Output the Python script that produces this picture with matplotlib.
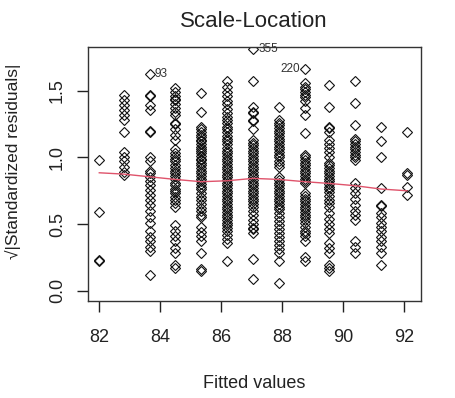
import numpy as np
import matplotlib.pyplot as plt

plt.rcParams['font.family'] = ['Liberation Sans', 'DejaVu Sans']

# fitted value of each column of points
fitted = [82.0, 82.8, 83.65, 84.5, 85.35, 86.2, 87.05, 87.9, 88.75, 89.55, 90.4, 91.25, 92.1]

# sqrt|standardized residuals| per fitted value
col1 = [0.98, 0.59, 0.23, 0.22]
col2 = [1.47, 1.43, 1.39, 1.355, 1.32, 1.28, 1.19, 1.04, 1.005, 0.97, 0.93, 0.89, 0.87]
col3 = [1.625, 1.47, 1.46, 1.39, 1.355, 1.20, 1.19, 1.005, 0.97, 0.895, 0.885, 0.855,
        0.82, 0.795, 0.755, 0.72, 0.68, 0.645, 0.595, 0.555, 0.505, 0.445, 0.405,
        0.37, 0.33, 0.295, 0.12]
col4 = [1.52, 1.49, 1.46, 1.44, 1.43, 1.40, 1.37, 1.34, 1.32, 1.26, 1.25, 1.21, 1.17,
        1.13, 1.06, 1.03, 1.01, 0.99, 0.97, 0.94, 0.92, 0.90, 0.88, 0.86, 0.84, 0.81,
        0.79, 0.76, 0.75, 0.73, 0.70, 0.68, 0.66, 0.63, 0.49, 0.45, 0.41, 0.37, 0.32,
        0.28, 0.19, 0.17]
col5 = [1.48, 1.34, 1.23, 1.21, 1.19, 1.17, 1.15, 1.13, 1.12, 1.10, 1.08, 1.06, 1.05,
        1.03, 1.01, 0.99, 0.98, 0.96, 0.94, 0.92, 0.90, 0.88, 0.86, 0.84, 0.82, 0.80,
        0.78, 0.76, 0.73, 0.70, 0.68, 0.65, 0.62, 0.60, 0.57, 0.555, 0.48, 0.44, 0.41,
        0.37, 0.28, 0.16, 0.15]
col6 = [1.57, 1.53, 1.49, 1.46, 1.42, 1.40, 1.36, 1.33, 1.30, 1.28, 1.26, 1.23, 1.21,
        1.19, 1.16, 1.14, 1.12, 1.10, 1.07, 1.05, 1.03, 1.01, 0.99, 0.97, 0.95, 0.93,
        0.91, 0.89, 0.87, 0.85, 0.83, 0.81, 0.79, 0.77, 0.75, 0.73, 0.71, 0.69, 0.67,
        0.65, 0.63, 0.61, 0.59, 0.57, 0.55, 0.53, 0.51, 0.49, 0.47, 0.45, 0.42, 0.39,
        0.36, 0.22]
col7 = [1.81, 1.57, 1.38, 1.34, 1.33, 1.28, 1.27, 1.21, 1.13, 1.11, 1.09, 1.07, 1.05,
        1.03, 1.01, 0.99, 0.97, 0.95, 0.93, 0.91, 0.89, 0.87, 0.85, 0.83, 0.81, 0.79,
        0.77, 0.75, 0.73, 0.71, 0.69, 0.67, 0.65, 0.63, 0.60, 0.57, 0.53, 0.50, 0.47,
        0.46, 0.43, 0.24, 0.09]
col8 = [1.38, 1.28, 1.26, 1.24, 1.22, 1.20, 1.18, 1.16, 1.14, 1.12, 1.10, 1.08, 1.06,
        1.04, 1.02, 1.00, 0.97, 0.95, 0.93, 0.855, 0.83, 0.81, 0.79, 0.77, 0.75, 0.73,
        0.71, 0.69, 0.67, 0.65, 0.63, 0.61, 0.58, 0.55, 0.52, 0.49, 0.46, 0.43, 0.40,
        0.37, 0.34, 0.31, 0.28, 0.22, 0.055]
col9 = [1.66, 1.56, 1.53, 1.51, 1.49, 1.47, 1.45, 1.42, 1.37, 1.32, 1.18, 1.02, 1.00,
        0.98, 0.96, 0.94, 0.92, 0.90, 0.88, 0.86, 0.84, 0.82, 0.81, 0.73, 0.71, 0.69,
        0.67, 0.65, 0.63, 0.61, 0.59, 0.57, 0.55, 0.53, 0.51, 0.48, 0.45, 0.43, 0.41,
        0.37, 0.255, 0.22]
col10 = [1.54, 1.38, 1.23, 1.22, 1.19, 1.13, 1.10, 1.07, 1.04, 1.005, 0.96, 0.94, 0.92,
         0.90, 0.88, 0.86, 0.84, 0.82, 0.80, 0.78, 0.76, 0.74, 0.71, 0.68, 0.66, 0.63,
         0.58, 0.54, 0.50, 0.46, 0.43, 0.355, 0.32, 0.28, 0.19, 0.17, 0.145]
col11 = [1.57, 1.405, 1.24, 1.14, 1.12, 1.10, 1.08, 1.06, 1.04, 1.02, 1.00, 0.98, 0.805,
         0.77, 0.73, 0.69, 0.645, 0.60, 0.57, 0.53, 0.37, 0.33, 0.28]
col12 = [1.23, 1.12, 1.005, 0.77, 0.645, 0.635, 0.58, 0.55, 0.51, 0.48, 0.45, 0.405,
         0.37, 0.33, 0.28, 0.19]
col13 = [1.19, 0.88, 0.87, 0.78, 0.72]
columns = [col1, col2, col3, col4, col5, col6, col7, col8, col9, col10, col11, col12, col13]

# smoother (red line)
smooth_y = [0.885, 0.875, 0.855, 0.835, 0.818, 0.825, 0.843, 0.835, 0.818, 0.805,
            0.788, 0.763, 0.75]

# labelled extreme points: (column index, label, side)
outliers = [(2, '93', 'right'), (6, '355', 'right'), (8, '220', 'left')]

x = np.concatenate([[f] * len(c) for f, c in zip(fitted, columns)])
y = np.concatenate(columns)

fig = plt.figure(figsize=(4.56, 3.98), dpi=100)
ax = fig.add_axes([0.193, 0.2437, 0.730, 0.638])

ax.plot(x, y, ls='none', marker='D', ms=4.8, mfc='none', mec='#111111', mew=0.8)
ax.plot(fitted, smooth_y, color='#DF536B', lw=1.0)

for i, lab, side in outliers:
    px, py = fitted[i], columns[i][0]
    dx = 0.17 if side == 'right' else -0.17
    ax.text(px + dx, py, lab, fontsize=8.5, color='#333333',
            ha='left' if side == 'right' else 'right', va='center')

ax.set_xlim(81.63, 92.56)
ax.set_ylim(-0.077, 1.828)
ax.set_xticks([82, 84, 86, 88, 90, 92])
ax.set_yticks([0.0, 0.5, 1.0, 1.5])
ax.set_yticklabels(['0.0', '0.5', '1.0', '1.5'], rotation=90, va='center')

ax.tick_params(axis='both', direction='out', length=8, width=1.0, labelsize=13,
               colors='#222222')
ax.tick_params(axis='x', pad=12.5)
ax.tick_params(axis='y', pad=8)
for s in ax.spines.values():
    s.set_linewidth(1.0)
    s.set_color('#333333')

ax.set_xlabel('Fitted values', fontsize=13, color='#222222')
ax.xaxis.set_label_coords(0.5, -0.291)
ax.set_ylabel('\u221a|Standardized residuals|', fontsize=12.5, color='#222222')
ax.yaxis.set_label_coords(-0.200, 0.55)

fig.text(0.556, 0.945, 'Scale-Location', fontsize=16, ha='center', va='center',
         color='#222222')

fig.savefig('out.png', dpi=100)
